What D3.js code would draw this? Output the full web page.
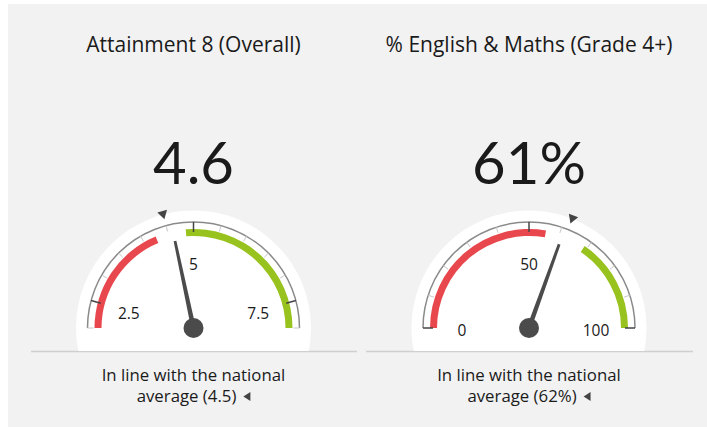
<!DOCTYPE html>
<html>
<head>
<meta charset="utf-8">
<script src="https://cdn.jsdelivr.net/npm/d3@7"></script>
<style>
  body { margin: 0; background: #fff; }
  text { font-family: "Open Sans", "Noto Sans", sans-serif; fill: #1a1a1a; }
  text.big { font-family: Lato, "Open Sans", sans-serif; }
</style>
</head>
<body>
<div id="chart"></div>
<script>
// gauge data
const titles = ["Attainment 8 (Overall)", "% English & Maths (Grade 4+)"];
const values = [4.6, 61];
const valueLabels = ["4.6", "61%"];
const nationalAvg = [4.5, 62];
const domains = [[2, 8], [0, 100]];
const tickSteps = [0.5, 10];
const majorTicks = [[2.5, 5, 7.5], [0, 50, 100]];
const redBands = [[2, 4.25], [0, 55.5]];
const greenBands = [[4.85, 8], [69, 100]];
const footer1 = ["In line with the national", "In line with the national"];
const footer2 = ["average (4.5)", "average (62%)"];

const width = 707, height = 427;
const centers = [193.5, 529];
const cy = 328;

const svg = d3.select("#chart").append("svg")
    .attr("width", width)
    .attr("height", height);

svg.append("rect")
    .attr("x", 8).attr("y", 4)
    .attr("width", width - 8).attr("height", height - 4)
    .attr("fill", "#f2f2f2");

svg.append("clipPath").attr("id", "clipTop")
    .append("rect").attr("x", 0).attr("y", 0).attr("width", width).attr("height", 351);

// separator lines
svg.append("line").attr("x1", 31).attr("x2", 357).attr("y1", 351.5).attr("y2", 351.5)
    .attr("stroke", "#cfcfcf").attr("stroke-width", 1.5);
svg.append("line").attr("x1", 366).attr("x2", 693).attr("y1", 351.5).attr("y2", 351.5)
    .attr("stroke", "#cfcfcf").attr("stroke-width", 1.5);

const rAxis = 106;

titles.forEach((title, i) => {
    const cx = centers[i];
    const g = svg.append("g");
    const scale = d3.scaleLinear().domain(domains[i]).range([-Math.PI / 2, Math.PI / 2]);
    const pt = (v, r) => [cx + r * Math.sin(scale(v)), cy - r * Math.cos(scale(v))];

    // title and big value
    g.append("text").attr("x", cx).attr("y", 52)
        .attr("text-anchor", "middle").style("font-size", "21px").text(title);
    g.append("text").attr("class", "big").attr("x", cx).attr("y", 184)
        .attr("text-anchor", "middle").style("font-size", "58px").text(valueLabels[i]);

    // white dial background
    g.append("circle").attr("cx", cx).attr("cy", cy).attr("r", 117.5)
        .attr("fill", "#fff").attr("clip-path", "url(#clipTop)");

    // colour bands
    const band = d3.arc().innerRadius(92).outerRadius(99);
    g.append("path")
        .attr("transform", `translate(${cx},${cy})`)
        .attr("d", band({startAngle: scale(redBands[i][0]), endAngle: scale(redBands[i][1])}))
        .attr("fill", "#e8474e");
    g.append("path")
        .attr("transform", `translate(${cx},${cy})`)
        .attr("d", band({startAngle: scale(greenBands[i][0]), endAngle: scale(greenBands[i][1])}))
        .attr("fill", "#98c21d");

    // axis arc
    const p = d3.path();
    p.arc(cx, cy, rAxis, -Math.PI, 0);
    g.append("path").attr("d", p.toString())
        .attr("fill", "none").attr("stroke", "#8a8a8a").attr("stroke-width", 1.5);

    // ticks
    const [d0, d1] = domains[i];
    const minor = d3.range(d0, d1 + tickSteps[i] / 2, tickSteps[i])
        .filter(v => !majorTicks[i].some(m => Math.abs(m - v) < 1e-6));
    g.selectAll(".minor").data(minor).join("line")
        .attr("x1", d => pt(d, rAxis)[0]).attr("y1", d => pt(d, rAxis)[1])
        .attr("x2", d => pt(d, 100)[0]).attr("y2", d => pt(d, 100)[1])
        .attr("stroke", "#c8c8c8").attr("stroke-width", 1);
    g.selectAll(".major").data(majorTicks[i]).join("line")
        .attr("x1", d => pt(d, rAxis)[0]).attr("y1", d => pt(d, rAxis)[1])
        .attr("x2", d => pt(d, 96)[0]).attr("y2", d => pt(d, 96)[1])
        .attr("stroke", "#444").attr("stroke-width", 1.5);

    // tick labels
    g.selectAll(".lbl").data(majorTicks[i]).join("text")
        .attr("x", d => pt(d, 67)[0])
        .attr("y", d => pt(d, 66)[1] + 2)
        .attr("text-anchor", "middle")
        .attr("dominant-baseline", "central")
        .style("font-size", "15.5px")
        .text(d => d);

    // national average marker
    const a = scale(nationalAvg[i]);
    g.append("path")
        .attr("transform", `translate(${cx},${cy}) rotate(${a * 180 / Math.PI})`)
        .attr("d", "M0,-112.5 L-5,-121 L5,-121 Z")
        .attr("fill", "#444");

    // needle
    const va = scale(values[i]);
    g.append("path")
        .attr("transform", `translate(${cx},${cy}) rotate(${va * 180 / Math.PI})`)
        .attr("d", "M-2.4,0 L-1.4,-89 L1.4,-89 L2.4,0 Z")
        .attr("fill", "#4b4b4b");
    g.append("circle").attr("cx", cx).attr("cy", cy).attr("r", 10)
        .attr("fill", "#4b4b4b");

    // footer text
    g.append("text").attr("x", cx).attr("y", 381)
        .attr("text-anchor", "middle").style("font-size", "16.8px").text(footer1[i]);
    const line2 = g.append("g");
    const t2 = line2.append("text").attr("x", 0).attr("y", 402)
        .style("font-size", "16.8px").text(footer2[i]);
    const tw = t2.node().getComputedTextLength();
    line2.append("path")
        .attr("d", `M${tw + 7},396.5 L${tw + 14},392 L${tw + 14},401 Z`)
        .attr("fill", "#444");
    line2.attr("transform", `translate(${cx - (tw + 14) / 2},0)`);
});
</script>
</body>
</html>
